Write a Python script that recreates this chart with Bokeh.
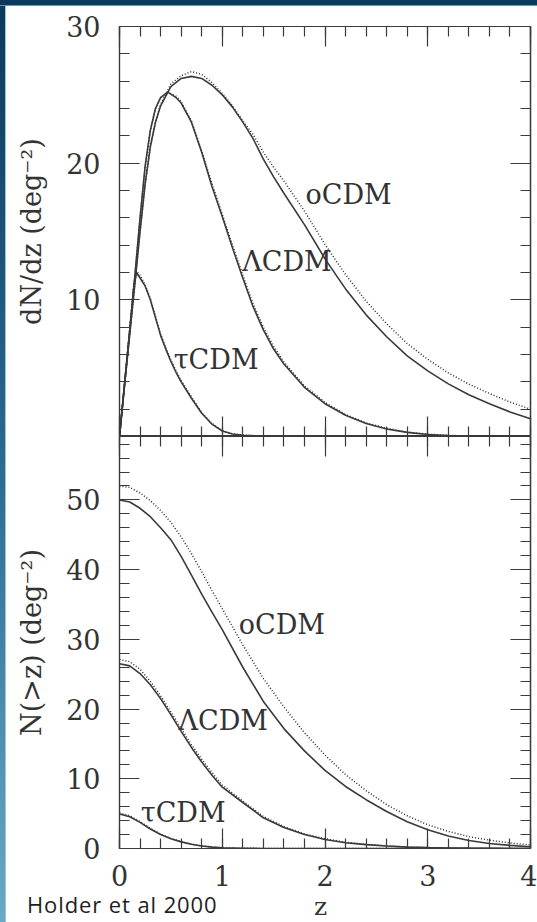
from bokeh.plotting import figure
from bokeh.layouts import column, row
from bokeh.models import Div, Label, FixedTicker, LinearAxis, Range1d
from bokeh.embed import file_html
from bokeh.resources import INLINE

# ---------------- data: dN/dz (deg^-2), top panel ----------------
tau_z = [0, 0.05, 0.1, 0.14, 0.165, 0.2, 0.25, 0.3, 0.35, 0.4, 0.45, 0.5, 0.55, 0.6, 0.7, 0.8, 0.9, 1.0, 1.1, 1.2, 1.4, 1.7, 2.0, 3.0, 4.0]
tau_dndz = [0, 3.9, 7.8, 11.0, 12.0, 11.6, 11.0, 10.0, 8.7, 7.4, 6.4, 5.5, 4.7, 4.0, 2.8, 1.7, 0.9, 0.4, 0.18, 0.08, 0.03, 0.01, 0, 0, 0]
tau_dndz_dot = [0, 3.9, 7.8, 11.1, 12.1, 11.8, 11.1, 10.1, 8.8, 7.5, 6.5, 5.6, 4.8, 4.1, 2.9, 1.75, 0.95, 0.42, 0.2, 0.09, 0.03, 0.01, 0, 0, 0]

lam_z = [0, 0.05, 0.1, 0.15, 0.2, 0.25, 0.3, 0.35, 0.4, 0.47, 0.55, 0.6, 0.7, 0.8, 0.9, 1.0, 1.1, 1.2, 1.3, 1.4, 1.5, 1.6, 1.8, 2.0, 2.2, 2.4, 2.6, 2.8, 3.0, 3.2, 3.5, 4.0]
lam_dndz = [0, 3.9, 7.8, 11.8, 16.0, 19.8, 22.4, 24.0, 24.8, 25.2, 24.8, 24.4, 23.0, 20.8, 18.3, 16.1, 13.8, 11.6, 9.5, 7.8, 6.4, 5.3, 3.6, 2.4, 1.55, 0.95, 0.55, 0.3, 0.15, 0.07, 0.02, 0]
lam_dndz_dot = [0, 3.9, 7.8, 11.8, 16.0, 19.8, 22.4, 24.0, 24.8, 25.2, 24.9, 24.5, 23.1, 20.9, 18.5, 16.25, 14.0, 11.8, 9.7, 8.0, 6.6, 5.45, 3.7, 2.5, 1.6, 1.0, 0.6, 0.33, 0.17, 0.08, 0.02, 0]

ocdm_z = [0, 0.05, 0.1, 0.15, 0.2, 0.25, 0.3, 0.35, 0.4, 0.5, 0.6, 0.7, 0.8, 0.9, 1.0, 1.1, 1.2, 1.3, 1.4, 1.5, 1.6, 1.8, 2.0, 2.2, 2.4, 2.6, 2.8, 3.0, 3.2, 3.4, 3.6, 3.8, 4.0]
ocdm_dndz = [0, 3.8, 7.5, 11.2, 15.0, 18.5, 21.2, 23.0, 24.2, 25.6, 26.2, 26.35, 26.2, 25.7, 25.0, 24.1, 23.0, 21.8, 20.3, 19.0, 17.8, 15.5, 13.0, 10.8, 8.9, 7.3, 5.9, 4.8, 3.85, 3.05, 2.4, 1.8, 1.3]
ocdm_dndz_dot = [0, 3.8, 7.5, 11.2, 15.0, 18.5, 21.2, 23.0, 24.3, 25.8, 26.4, 26.7, 26.5, 25.9, 25.1, 24.2, 23.1, 22.1, 20.8, 19.7, 18.7, 16.5, 14.05, 11.85, 9.9, 8.25, 6.8, 5.65, 4.65, 3.83, 3.15, 2.52, 2.0]

# ---------------- data: N(>z) (deg^-2), bottom panel ----------------
n_z = [0, 0.1, 0.2, 0.3, 0.4, 0.5, 0.6, 0.7, 0.8, 0.9, 1.0, 1.2, 1.4, 1.6, 1.8, 2.0, 2.2, 2.4, 2.6, 2.8, 3.0, 3.2, 3.4, 3.6, 3.8, 4.0]
ocdm_n = [50.0, 49.7, 48.8, 47.6, 46.0, 44.3, 41.9, 39.2, 36.5, 33.9, 31.4, 26.0, 21.1, 17.2, 14.0, 11.2, 8.9, 7.0, 5.3, 3.85, 2.7, 1.8, 1.15, 0.72, 0.45, 0.25]
ocdm_n_dot = [52.0, 51.8, 51.0, 49.9, 48.5, 46.8, 44.7, 42.3, 39.7, 37.0, 34.4, 29.2, 24.4, 20.3, 16.6, 13.4, 10.6, 8.3, 6.3, 4.7, 3.4, 2.45, 1.7, 1.2, 0.8, 0.5]
lam_n = [26.5, 26.2, 25.1, 23.5, 21.5, 19.2, 16.8, 14.5, 12.4, 10.5, 8.8, 6.6, 4.4, 3.0, 2.0, 1.3, 0.83, 0.55, 0.35, 0.2, 0.12, 0.08, 0.05, 0.03, 0.01, 0]
lam_n_dot = [27.1, 26.8, 25.7, 24.0, 21.9, 19.6, 17.2, 14.9, 12.8, 10.9, 9.1, 6.8, 4.6, 3.15, 2.1, 1.4, 0.9, 0.6, 0.38, 0.22, 0.13, 0.09, 0.05, 0.03, 0.01, 0]
tau_n = [4.95, 4.55, 3.75, 2.8, 2.0, 1.4, 0.95, 0.6, 0.37, 0.2, 0.1, 0.03, 0.01, 0, 0, 0, 0, 0, 0, 0, 0, 0, 0, 0, 0, 0]
tau_n_dot = [5.1, 4.7, 3.85, 2.9, 2.05, 1.45, 0.98, 0.62, 0.38, 0.21, 0.1, 0.03, 0.01, 0, 0, 0, 0, 0, 0, 0, 0, 0, 0, 0, 0, 0]

# ---------------- ticks and labels ----------------
x_ticks = [0, 1, 2, 3, 4]
top_y_ticks = [10, 20, 30]
bottom_y_ticks = [0, 10, 20, 30, 40, 50]
x_minor = [round(0.2 * i, 1) for i in range(21)]
top_y_minor = list(range(0, 31, 2))
bottom_y_minor = list(range(0, 60, 2))
model_names = ["oCDM", "\u039bCDM", "\u03c4CDM"]
top_label_pos = [(2.23, 17.7), (1.63, 12.8), (0.94, 5.6)]
bot_label_pos = [(1.58, 32.1), (1.01, 18.3), (0.62, 5.1)]
top_ylabel = "dN/dz (deg\u207b\u00b2)"
bottom_ylabel = "N(>z) (deg\u207b\u00b2)"
xlabel = "z"
credit = "Holder et al 2000"

SERIF = "DejaVu Serif"
INK = "#3a3a3a"
TXT = "#333333"


def tick_style(ax):
    ax.major_tick_in = 20
    ax.major_tick_out = 0
    ax.minor_tick_in = 10
    ax.minor_tick_out = 0
    ax.axis_line_color = INK
    ax.major_tick_line_color = INK
    ax.minor_tick_line_color = INK
    ax.axis_line_width = 1.2
    ax.major_tick_line_width = 1.2
    ax.minor_tick_line_width = 1.2


def labelled_axis(ticks, minor, label=None, standoff=19):
    ax = LinearAxis(ticker=FixedTicker(ticks=ticks, minor_ticks=minor))
    tick_style(ax)
    ax.major_label_standoff = standoff
    ax.major_label_text_font = SERIF
    ax.major_label_text_font_size = "27px"
    ax.major_label_text_color = TXT
    if label is not None:
        ax.axis_label = label
        ax.axis_label_text_font = SERIF
        ax.axis_label_text_font_size = "27px"
        ax.axis_label_text_font_style = "normal"
        ax.axis_label_text_color = TXT
        ax.axis_label_standoff = 16
    return ax


def bare_axes(p, side, majors, minors):
    # tick marks only, no label texts: short ticks, then long ticks at major positions
    a = LinearAxis(ticker=FixedTicker(ticks=[], minor_ticks=minors))
    tick_style(a)
    a.major_label_standoff = 0
    p.add_layout(a, side)
    b = LinearAxis(ticker=FixedTicker(ticks=[], minor_ticks=majors))
    tick_style(b)
    b.minor_tick_in = 20
    b.major_label_standoff = 0
    p.add_layout(b, side)


def build(height, y_end, min_top, min_bottom):
    p = figure(width=531, height=height, x_range=Range1d(0, 4), y_range=Range1d(0, y_end),
               output_backend="svg", toolbar_location=None,
               x_axis_location=None, y_axis_location=None,
               min_border_left=113, min_border_right=7,
               min_border_top=min_top, min_border_bottom=min_bottom)
    p.outline_line_color = INK
    p.outline_line_width = 1.2
    p.grid.visible = False
    return p


DOT = dict(line_color="#2e2e2e", line_width=1.5, line_dash="1 2")
SOLID = dict(line_color=INK, line_width=1.6)

# ---------------- top panel ----------------
p1 = build(430, 30, 20, 0)
p1.add_layout(labelled_axis(top_y_ticks, top_y_minor, top_ylabel), "left")
bare_axes(p1, "right", top_y_ticks, top_y_minor)
bare_axes(p1, "above", x_ticks, x_minor)
bare_axes(p1, "below", x_ticks, x_minor)

p1.line(tau_z, tau_dndz_dot, **DOT)
p1.line(lam_z, lam_dndz_dot, **DOT)
p1.line(ocdm_z, ocdm_dndz_dot, **DOT)
p1.line(tau_z, tau_dndz, **SOLID)
p1.line(lam_z, lam_dndz, **SOLID)
p1.line(ocdm_z, ocdm_dndz, **SOLID)
for name, (lx, ly) in zip(model_names, top_label_pos):
    p1.add_layout(Label(x=lx, y=ly, text=name, text_align="center", text_baseline="middle",
                        text_font=SERIF, text_font_size="27px", text_color=TXT))

# ---------------- bottom panel ----------------
p2 = build(459, 59.1, 0, 47)
p2.add_layout(labelled_axis(bottom_y_ticks, bottom_y_minor, bottom_ylabel), "left")
p2.add_layout(labelled_axis(x_ticks, x_minor, None, standoff=16), "below")
bare_axes(p2, "right", bottom_y_ticks, bottom_y_minor)
bare_axes(p2, "above", x_ticks, x_minor)

p2.line(n_z, tau_n_dot, **DOT)
p2.line(n_z, lam_n_dot, **DOT)
p2.line(n_z, ocdm_n_dot, **DOT)
p2.line(n_z, tau_n, **SOLID)
p2.line(n_z, lam_n, **SOLID)
p2.line(n_z, ocdm_n, **SOLID)
for name, (lx, ly) in zip(model_names, bot_label_pos):
    p2.add_layout(Label(x=lx, y=ly, text=name, text_align="center", text_baseline="middle",
                        text_font=SERIF, text_font_size="27px", text_color=TXT))

# ---------------- footer: credit and x-axis title ----------------
footer_html = (
    '<div style="position:relative;width:531px;height:27px;">'
    '<span style="position:absolute;left:21px;top:0px;white-space:nowrap;font-family:\'Open Sans\';'
    'font-size:22px;line-height:19px;letter-spacing:0.9px;color:#1e1e1e;">' + credit + '</span>'
    '<span style="position:absolute;left:308px;top:-1px;font-family:\'DejaVu Serif\';'
    'font-size:25px;line-height:25px;color:#333333;">' + xlabel + '</span>'
    '</div>'
)
footer = Div(text=footer_html, width=531, height=27, margin=0)

# ---------------- page frame (slide border) ----------------
top_strip = Div(text="", width=537, height=6, margin=0,
                styles={"background-color": "#0b3a5e", "box-sizing": "border-box",
                        "border-bottom": "1px solid #6a93b0"})
left_strip = Div(text="", width=6, height=916, margin=0,
                 styles={"background": "linear-gradient(to bottom, #0b3a5e 0%, #2c6890 50%, #6aa8c8 100%)",
                         "box-sizing": "border-box",
                         "border-right": "1px solid #9cc3d8"})

layout = column(top_strip, row(left_strip, column(p1, p2, footer, spacing=0), spacing=0), spacing=0)

with open("out.html", "w") as f:
    f.write(file_html(layout, INLINE))
